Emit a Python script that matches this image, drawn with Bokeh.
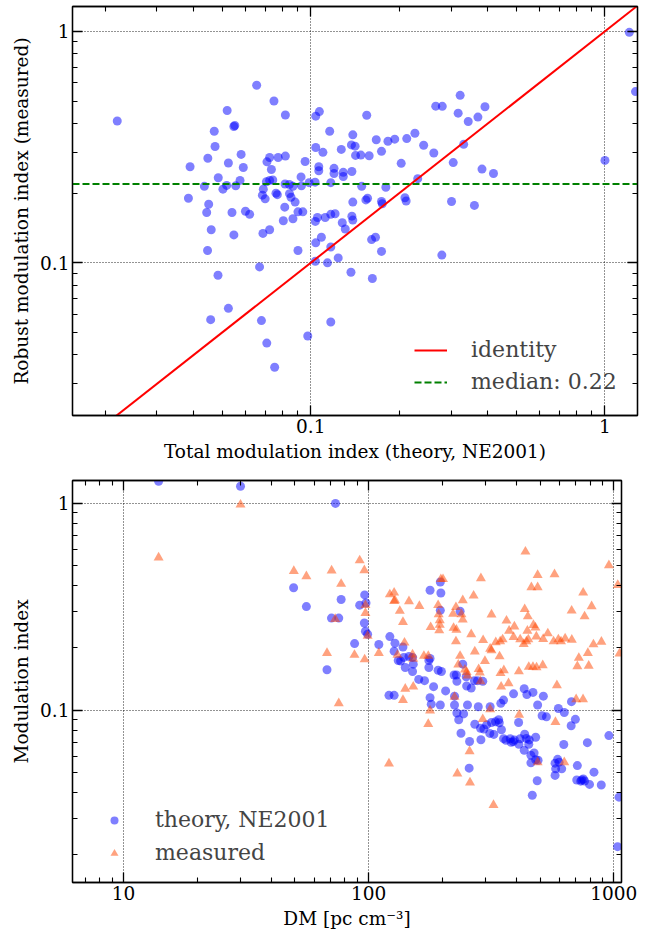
import numpy as np
from bokeh.plotting import figure
from bokeh.models import (FixedTicker, CustomJSTickFormatter, LogAxis, Legend,
                          LegendItem, Range1d)
from bokeh.layouts import column
from bokeh.embed import file_html
from bokeh.resources import INLINE

FONT = "DejaVu Serif"

# ---------------- top panel data ----------------
theory_total = [
    0.022, 0.0655, 0.075, 0.052, 0.082, 0.0552, 0.0548, 0.047, 0.104, 0.107,
    0.0473, 0.104, 0.11, 0.116, 0.058, 0.0447, 0.0389, 0.0525, 0.059, 0.0725,
    0.071, 0.0775, 0.082, 0.0735, 0.0957, 0.1065, 0.1065, 0.0485, 0.0927, 0.0575,
    0.0518, 0.0503, 0.0435, 0.0556, 0.0707, 0.0725, 0.0743, 0.069, 0.0685, 0.070,
    0.0762, 0.077, 0.0818, 0.0846, 0.087, 0.0847, 0.0857, 0.093, 0.0987, 0.1035,
    0.0885, 0.0816, 0.0384, 0.045, 0.0443, 0.054, 0.060, 0.062, 0.0905, 0.094,
    0.0807, 0.087, 0.0459, 0.0548, 0.0688, 0.0725, 0.0446, 0.0905, 0.1037, 0.1054,
    0.1087, 0.104, 0.1037, 0.067, 0.0484, 0.0525, 0.0457, 0.068, 0.0977, 0.0709,
    0.117, 0.0754, 0.322, 0.266, 0.28, 0.391, 0.317, 0.37, 0.343, 0.155,
    0.139, 0.1375, 0.1415, 0.127, 0.167, 0.183, 0.193, 0.212, 0.226, 0.242,
    0.174, 0.262, 0.142, 0.148, 0.158, 0.331, 0.305, 0.203, 0.12, 0.12,
    0.129, 0.129, 0.138, 0.382, 0.418, 0.231, 0.117, 0.149, 0.18, 0.139,
    0.154, 0.156, 0.174, 0.175, 0.209, 0.211, 0.301, 0.36, 0.112, 0.117,
    0.121, 0.138, 0.139, 0.128, 0.131, 0.117, 0.124, 0.114, 0.161, 0.166,
    0.174, 0.279, 0.137, 0.162, 1.21, 1.27, 1.0,
]
robust_measured = [
    0.41, 0.585, 0.50, 0.455, 0.435, 0.392, 0.388, 0.37, 0.43, 0.45,
    0.318, 0.315, 0.30, 0.37, 0.294, 0.283, 0.26, 0.27, 0.258, 0.285,
    0.273, 0.285, 0.289, 0.253, 0.274, 0.26, 0.25, 0.233, 0.235, 0.227,
    0.216, 0.208, 0.214, 0.215, 0.224, 0.227, 0.228, 0.208, 0.196, 0.189,
    0.2, 0.197, 0.219, 0.218, 0.214, 0.199, 0.192, 0.215, 0.222, 0.223,
    0.183, 0.174, 0.19, 0.179, 0.165, 0.165, 0.167, 0.162, 0.166, 0.166,
    0.152, 0.155, 0.139, 0.132, 0.134, 0.139, 0.113, 0.113, 0.151, 0.157,
    0.129, 0.122, 0.1016, 0.096, 0.0884, 0.0636, 0.0568, 0.0563, 0.0483, 0.045,
    0.0555, 0.0354, 0.529, 0.475, 0.474, 0.472, 0.443, 0.426, 0.408, 0.434,
    0.357, 0.323, 0.319, 0.309, 0.34, 0.335, 0.342, 0.344, 0.363, 0.322,
    0.303, 0.298, 0.291, 0.292, 0.29, 0.325, 0.271, 0.269, 0.256, 0.243,
    0.246, 0.236, 0.248, 0.254, 0.243, 0.231, 0.222, 0.214, 0.212, 0.183,
    0.187, 0.19, 0.184, 0.18, 0.191, 0.185, 0.184, 0.177, 0.157, 0.162,
    0.163, 0.159, 0.153, 0.149, 0.14, 0.117, 0.105, 0.1, 0.126, 0.129,
    0.112, 0.108, 0.091, 0.0856, 0.99, 0.549, 0.277,
]
top_xlim = [0.0155, 1.29]
top_ylim = [0.0219, 1.28]

# ---------------- bottom panel data ----------------
dm_theory = [
    13.9, 30, 73.2,
    49.4, 55.7, 77.2, 96.3, 91.9, 97.5, 70.5, 75.5, 96, 97, 99, 87.6, 67.6, 110,
    122, 128, 127, 138, 132, 135, 139, 146, 151, 152, 176, 176, 141, 151, 160,
    169, 121, 127,
    196, 178, 197, 196, 236, 178, 192, 198, 242, 223, 228, 229, 250, 251, 262,
    270, 278, 292, 184, 206, 178, 196, 180, 224, 224, 229, 233, 244, 253, 280,
    313, 238, 258, 257, 271, 286, 295, 303, 312, 324, 317, 329, 341, 348, 339,
    287, 355, 363, 381, 378, 389, 393, 410, 415, 433, 440, 452, 480, 450, 431,
    459, 473, 480, 491, 459, 487, 465, 590, 576, 598, 613, 579, 576, 710, 706,
    733, 740, 751, 760, 796, 830, 889, 780, 625, 955, 1050, 594, 628, 670, 697,
    672, 531, 510, 489, 516, 442, 431, 468, 390, 355, 346, 409, 1036,
]
m_theory = [
    1.28, 1.21, 1.0,
    0.391, 0.317, 0.343, 0.361, 0.322, 0.33, 0.279, 0.279, 0.264, 0.241, 0.233,
    0.21, 0.157, 0.208, 0.227, 0.211, 0.193, 0.202, 0.174, 0.173, 0.18, 0.182,
    0.18, 0.167, 0.174, 0.161, 0.161, 0.154, 0.141, 0.139, 0.118, 0.118,
    0.417, 0.38, 0.369, 0.304, 0.301, 0.178, 0.156, 0.154, 0.167, 0.148, 0.148,
    0.138, 0.145, 0.131, 0.128, 0.139, 0.139, 0.138, 0.13, 0.124, 0.115, 0.106,
    0.107, 0.117, 0.106, 0.097, 0.09, 0.096, 0.106, 0.104, 0.104, 0.0774,
    0.0706, 0.0525, 0.0856, 0.0818, 0.0812, 0.085, 0.0773, 0.0764, 0.0873,
    0.0879, 0.087, 0.0805, 0.09, 0.072, 0.0729, 0.0716, 0.070, 0.0728, 0.0705,
    0.0719, 0.0684, 0.0728, 0.0766, 0.073, 0.0719, 0.074, 0.0684, 0.064,
    0.0606, 0.0622, 0.0576, 0.0573, 0.0557, 0.0456, 0.0388, 0.0579, 0.0555,
    0.0561, 0.0521, 0.0521, 0.0484, 0.054, 0.046, 0.0454, 0.046, 0.0465,
    0.0455, 0.0438, 0.0502, 0.0435, 0.0697, 0.0683, 0.0754, 0.038, 0.102,
    0.0975, 0.0842, 0.0904, 0.11, 0.0929, 0.094, 0.106, 0.117, 0.119, 0.127,
    0.122, 0.12, 0.112, 0.108, 0.0873, 0.0219,
]
dm_measured = [
    30, 13.9,
    91.9, 49.5, 55.7, 70.6, 96, 77.2, 97, 97, 73, 99, 122, 127, 128, 127, 146,
    161, 134, 138, 179, 67.6, 87.5, 96.3, 110, 140, 131, 151, 152, 168, 175,
    152, 141, 138, 75.5, 178, 175, 121,
    436, 955, 1038, 489, 573, 287, 197, 201, 461, 489, 750, 812, 673, 760, 242,
    268, 192, 227, 221, 239, 242, 317, 193, 195, 195, 194, 222, 228, 227, 262,
    293, 365, 393, 374, 433, 446, 470, 479, 483, 444, 390, 352, 344, 330, 313,
    317, 271, 298, 236, 342, 415, 429, 440, 448, 515, 538, 568, 594, 609, 633,
    674, 890, 826, 1055, 784, 720, 710, 790, 586, 702, 749, 232, 247, 251, 253,
    281, 284, 286, 372, 347, 292, 313, 411, 578, 628, 489, 258, 230, 259, 323,
    224, 345, 356, 410, 450, 468, 484, 513,
]
m_measured = [
    0.985, 0.547,
    0.53, 0.471, 0.444, 0.473, 0.475, 0.408, 0.322, 0.295, 0.276, 0.229, 0.363,
    0.37, 0.34, 0.337, 0.336, 0.319, 0.302, 0.267, 0.252, 0.189, 0.185, 0.176,
    0.189, 0.212, 0.185, 0.186, 0.177, 0.183, 0.183, 0.13, 0.127, 0.112, 0.108,
    0.0997, 0.0858, 0.0552,
    0.584, 0.502, 0.403, 0.45, 0.454, 0.434, 0.43, 0.43, 0.393, 0.393, 0.37,
    0.318, 0.303, 0.284, 0.34, 0.358, 0.322, 0.315, 0.292, 0.291, 0.274, 0.29,
    0.291, 0.272, 0.259, 0.243, 0.25, 0.245, 0.215, 0.233, 0.218, 0.271, 0.254,
    0.242, 0.308, 0.284, 0.258, 0.251, 0.227, 0.242, 0.226, 0.22, 0.215, 0.213,
    0.198, 0.195, 0.192, 0.173, 0.183, 0.182, 0.22, 0.209, 0.215, 0.22, 0.221,
    0.235, 0.215, 0.22, 0.215, 0.222, 0.219, 0.214, 0.208, 0.188, 0.189, 0.179,
    0.163, 0.164, 0.132, 0.113, 0.113, 0.166, 0.157, 0.153, 0.147, 0.158,
    0.152, 0.138, 0.135, 0.13, 0.0905, 0.101, 0.095, 0.0877, 0.056, 0.056,
    0.0633, 0.0494, 0.0447, 0.0348, 0.116, 0.151, 0.156, 0.154, 0.162, 0.162,
    0.161, 0.165,
]
bot_xlim = [6.19, 1075]
bot_ylim = [0.0147, 1.29]

top_x_major = [0.01, 0.1, 1]
top_x_minor = [0.02, 0.03, 0.04, 0.05, 0.06, 0.07, 0.08, 0.09,
               0.2, 0.3, 0.4, 0.5, 0.6, 0.7, 0.8, 0.9, 2]
log_y_major = [0.01, 0.1, 1]
log_y_minor = [0.02, 0.03, 0.04, 0.05, 0.06, 0.07, 0.08, 0.09,
               0.2, 0.3, 0.4, 0.5, 0.6, 0.7, 0.8, 0.9, 2]
dm_major = [1, 10, 100, 1000]
dm_minor = [2, 3, 4, 5, 6, 7, 8, 9, 20, 30, 40, 50, 60, 70, 80, 90,
            200, 300, 400, 500, 600, 700, 800, 900]

TICK_FS = "18.5px"
LABEL_FS = "18.5px"
LEGEND_FS = "22px"


def style_axis(ax, labels=True):
    ax.axis_line_color = "black"
    ax.axis_line_width = 1.3
    ax.major_tick_line_color = "black"
    ax.minor_tick_line_color = "black"
    ax.major_tick_line_width = 1.3
    ax.minor_tick_line_width = 1.1
    ax.major_tick_in = 10
    ax.major_tick_out = 0
    ax.minor_tick_in = 5
    ax.minor_tick_out = 0
    ax.axis_label_text_font = FONT
    ax.axis_label_text_font_style = "normal"
    ax.axis_label_text_font_size = LABEL_FS
    ax.axis_label_text_color = "black"
    ax.major_label_text_font = FONT
    ax.major_label_text_color = "black"
    if labels:
        ax.major_label_text_font_size = TICK_FS
        ax.formatter = CustomJSTickFormatter(code="return tick.toString();")
    else:
        ax.major_label_text_font_size = "0px"
        ax.major_label_standoff = 0
        ax.axis_label_standoff = 0
        ax.formatter = CustomJSTickFormatter(code="return '';")


def make_fig(xlim, ylim, fw, fh, bl, br, bt, bb, xmaj, xmin, ymaj, ymin,
             xlabel, ylabel):
    p = figure(frame_width=fw, frame_height=fh, x_axis_type="log",
               y_axis_type="log", x_range=Range1d(*xlim),
               y_range=Range1d(*ylim), output_backend="svg",
               toolbar_location=None, min_border_left=bl,
               min_border_right=br, min_border_top=bt, min_border_bottom=bb)
    p.background_fill_color = "white"
    p.border_fill_color = "white"
    p.outline_line_color = "black"
    p.outline_line_width = 1.3
    bx = p.below[0]
    ly = p.left[0]
    bx.ticker = FixedTicker(ticks=xmaj, minor_ticks=xmin)
    ly.ticker = FixedTicker(ticks=ymaj, minor_ticks=ymin)
    style_axis(bx)
    style_axis(ly)
    bx.axis_label = xlabel
    ly.axis_label = ylabel
    bx.major_label_standoff = 3
    bx.axis_label_standoff = 5
    ly.major_label_standoff = 3
    ly.axis_label_standoff = 5
    top = LogAxis(ticker=FixedTicker(ticks=xmaj, minor_ticks=xmin))
    right = LogAxis(ticker=FixedTicker(ticks=ymaj, minor_ticks=ymin))
    style_axis(top, labels=False)
    style_axis(right, labels=False)
    p.add_layout(top, "above")
    p.add_layout(right, "right")
    p.xgrid.ticker = FixedTicker(ticks=xmaj)
    p.ygrid.ticker = FixedTicker(ticks=ymaj)
    for g in (p.xgrid, p.ygrid):
        g.grid_line_color = "black"
        g.grid_line_alpha = 0.85
        g.grid_line_dash = "1 2"
        g.grid_line_width = 1
    return p


# ---------------- top figure ----------------
p1 = make_fig(top_xlim, top_ylim, 565, 409, 72, 20, 6, 55,
              top_x_major, top_x_minor, log_y_major, log_y_minor,
              "Total modulation index (theory, NE2001)",
              "Robust modulation index (measured)")

p1.scatter(theory_total, robust_measured, marker="circle", size=9,
           fill_color="blue", fill_alpha=0.5, line_color=None)
median_val = float(np.median(robust_measured))
r_id = p1.line(top_xlim, top_xlim, line_color="red", line_width=2)
r_med = p1.line(top_xlim, [median_val, median_val], line_color="green",
                line_width=2, line_dash="7 3")
leg1 = Legend(items=[LegendItem(label="identity", renderers=[r_id]),
                     LegendItem(label=f"median: {median_val:.2f}",
                                renderers=[r_med])],
              location=(342, 21), padding=0, margin=0, spacing=7,
              glyph_width=33, glyph_height=20, label_height=20,
              label_standoff=24, label_text_font=FONT,
              label_text_font_size=LEGEND_FS, border_line_color=None,
              background_fill_alpha=0)
p1.add_layout(leg1)

# ---------------- bottom figure ----------------
p2 = make_fig(bot_xlim, bot_ylim, 549, 402, 72, 36, 10, 51,
              dm_major, dm_minor, log_y_major, log_y_minor,
              "DM [pc cm\u207b\u00b3]", "Modulation index")

r_th = p2.scatter(dm_theory, m_theory, marker="circle", size=9,
                  fill_color="blue", fill_alpha=0.5, line_color=None)
r_me = p2.scatter(dm_measured, m_measured, marker="triangle", size=10,
                  fill_color="orangered", fill_alpha=0.5, line_color=None)
leg2 = Legend(items=[LegendItem(label="theory, NE2001", renderers=[r_th]),
                     LegendItem(label="measured", renderers=[r_me])],
              location=(22, 17), padding=0, margin=0, spacing=8,
              glyph_width=40, glyph_height=20, label_height=20,
              label_standoff=21, label_text_font=FONT,
              label_text_font_size=LEGEND_FS, border_line_color=None,
              background_fill_alpha=0)
p2.add_layout(leg2)

layout = column(p1, p2, spacing=0)
open("out.html", "w").write(file_html(layout, INLINE))
